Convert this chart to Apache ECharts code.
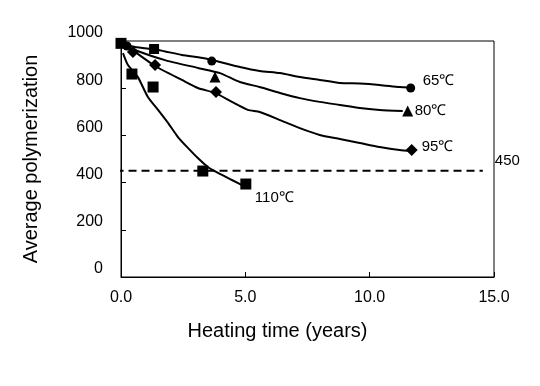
<!DOCTYPE html>
<html><head><meta charset="utf-8">
<script src="https://cdn.jsdelivr.net/npm/echarts@6/dist/echarts.min.js"></script>
<style>html,body{margin:0;padding:0;background:#fff}#c{width:540px;height:386px}</style>
</head><body><div id="c"></div>
<script>
// Axis ticks
const xTicks = [0, 5, 10, 15];
const yTicks = [0, 200, 400, 600, 800, 1000];
const seriesNames = ['65℃', '80℃', '95℃', '110℃'];
const thresholdValue = 450;
const thresholdLine = [[-0.22, 450], [14.55, 450]];

// Fitted curves [years, average polymerization]
const curve65 = [[0,990],[0.56,975],[1.49,962],[2.45,941],[3.49,924],[4.78,890],[5.58,873],[6.39,864],[7.19,847],[7.99,835],[8.8,822],[9.6,820],[10.4,814],[11.2,805],[11.61,803]];
const curve80 = [[0,990],[0.56,962],[1.77,919],[3.09,886],[3.98,864],[4.78,826],[5.58,805],[6.39,780],[7.19,758],[7.99,742],[8.8,729],[9.6,716],[10.4,708],[11.33,703]];
const curve95 = [[0,990],[0.28,975],[1.37,894],[2.45,835],[3.09,801],[3.78,780],[4.46,742],[5.1,708],[5.58,699],[6.39,665],[7.19,631],[7.99,602],[8.8,585],[9.6,568],[10.4,551],[11.2,538],[11.69,534]];
const curve110 = [[0.08,949],[0.28,898],[0.68,847],[1.08,763],[1.49,708],[1.89,653],[2.29,593],[2.69,547],[3.09,504],[3.49,466],[3.9,441],[4.46,411],[4.98,383]];

// Measured points
const pts65Circle = [[0.24,979],[3.65,915],[11.65,801]];
const pts65Square = [[1.33,966]];
const pts80 = [[3.78,847],[11.53,703]];
const pts95 = [[0.48,953],[1.37,898],[3.82,784],[11.69,538]];
const pts110 = [[0,990],[0.44,860],[1.29,805],[3.29,449],[5.02,394]];

const FONT = 'Liberation Sans, Arial, sans-serif';
const chart = echarts.init(document.getElementById('c'));

function curve(name, data, labelOffset) {
  return {
    type: 'line', name, data, symbol: 'none', smooth: 0.2,
    lineStyle: {color: '#000', width: 2},
    endLabel: {show: true, formatter: name, color: '#000', fontSize: 15, fontFamily: FONT,
      distance: 10, offset: labelOffset},
    silent: true, z: 3
  };
}
function pts(data, symbol, size) {
  return {type: 'scatter', data, symbol, symbolSize: size,
    itemStyle: {color: '#000', opacity: 1}, z: 4, silent: true};
}

chart.setOption({
  animation: false,
  backgroundColor: '#fff',
  grid: {left: 121, right: 46, top: 41, bottom: 109, show: true, borderColor: '#000', borderWidth: 1},
  xAxis: {
    type: 'value', min: xTicks[0], max: xTicks[xTicks.length-1], interval: 5,
    name: 'Heating time (years)', nameLocation: 'middle', nameGap: 44,
    nameTextStyle: {color: '#000', fontSize: 20, fontFamily: FONT, padding: [0, 60, 0, 0]},
    axisLine: {lineStyle: {color: '#000', width: 1}},
    axisTick: {inside: true, length: 5, lineStyle: {color: '#000'}},
    axisLabel: {color: '#000', fontSize: 16, fontFamily: FONT, margin: 13,
      formatter: v => v.toFixed(1)},
    splitLine: {show: false}
  },
  yAxis: {
    type: 'value', min: yTicks[0], max: yTicks[yTicks.length-1], interval: 200,
    name: 'Average polymerization', nameLocation: 'middle', nameGap: 80,
    nameTextStyle: {color: '#000', fontSize: 20, fontFamily: FONT},
    axisLine: {show: true, lineStyle: {color: '#000', width: 1}},
    axisTick: {show: true, inside: true, length: 5, lineStyle: {color: '#000'}},
    axisLabel: {color: '#000', fontSize: 16, fontFamily: FONT, margin: 18,
      verticalAlign: 'bottom', lineHeight: 16, formatter: v => String(v)},
    splitLine: {show: false}
  },
  series: [
    {type: 'line', data: thresholdLine, symbol: 'none', clip: false, silent: true,
      lineStyle: {color: '#000', width: 2, type: [8, 5]},
      endLabel: {show: true, formatter: String(thresholdValue), color: '#000', fontSize: 15,
        fontFamily: FONT, distance: 12, offset: [0, -10]}},
    curve(seriesNames[0], curve65, [3, -7]),
    curve(seriesNames[1], curve80, [2, 0]),
    curve(seriesNames[2], curve95, [0, -4]),
    curve(seriesNames[3], curve110, [0, 11]),
    pts(pts65Circle, 'circle', 9),
    pts(pts65Square, 'rect', 10),
    pts(pts80, 'triangle', 11),
    pts(pts95, 'diamond', 12),
    pts(pts110, 'rect', 11)
  ]
});
</script></body></html>
